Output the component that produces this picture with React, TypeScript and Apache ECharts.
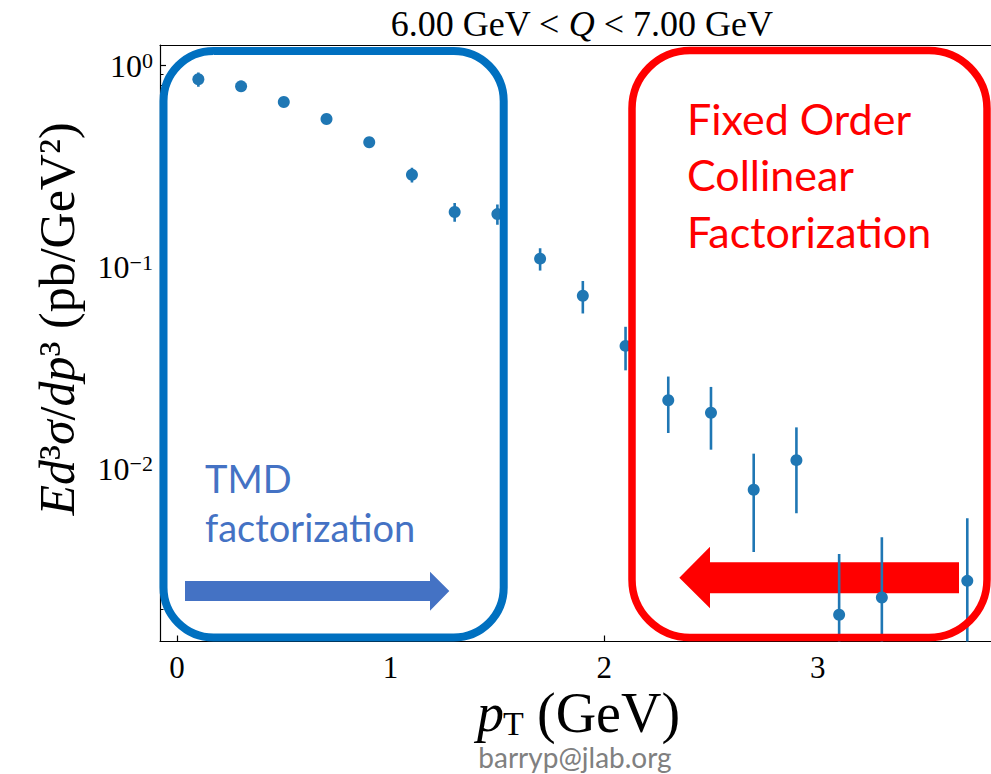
import React, { useEffect, useRef } from "react";
import * as echarts from "echarts";

// ---- data ----
const ptValues = [0.1, 0.3, 0.5, 0.7, 0.9, 1.1, 1.3, 1.5, 1.7, 1.9, 2.1, 2.3, 2.5, 2.7, 2.9, 3.1, 3.3, 3.7];
const sigmaValues = [0.854, 0.788, 0.659, 0.543, 0.416, 0.287, 0.1875, 0.183, 0.11, 0.072, 0.0406, 0.0218, 0.0189, 0.00785, 0.011, 0.00188, 0.00229, 0.00277];
const sigmaErrors = [0.069, 0.035, 0.03, 0.025, 0.02, 0.024, 0.02, 0.021, 0.014, 0.0132, 0.0099, 0.0068, 0.0065, 0.004, 0.005, 0.00188, 0.00227, 0.0029];

const xTicks = [0, 1, 2, 3];
const yMajorTicks = [1, 0.1, 0.01];
const yMinorTicks = [
  0.002, 0.003, 0.004, 0.005, 0.006, 0.007, 0.008, 0.009,
  0.02, 0.03, 0.04, 0.05, 0.06, 0.07, 0.08, 0.09,
  0.2, 0.3, 0.4, 0.5, 0.6, 0.7, 0.8, 0.9,
];

const X_MIN = -0.0796;
const X_MAX = 3.811;
const Y_MIN = 0.001385;
const Y_MAX = 1.264;

const titleText = "6.00 GeV < {q|Q} < 7.00 GeV";
const redLines = ["Fixed Order", "Collinear", "Factorization"];
const blueLines = ["TMD", "factorization"];
const footerText = "barryp@jlab.org";

const SERIF = "'Liberation Serif', 'DejaVu Serif', serif";
const SANS = "Lato, 'Open Sans', sans-serif";
const DOT = "#1f77b4";

export default function App() {
  const ref = useRef<HTMLDivElement>(null);

  useEffect(() => {
    if (!ref.current) return;
    const chart = echarts.init(ref.current, undefined, { renderer: "svg" });

    const errData = ptValues.map((x, i) => [x, sigmaValues[i], sigmaErrors[i]]);
    const ptData = ptValues.map((x, i) => [x, sigmaValues[i]]);

    const supRich = {
      a: { fontFamily: SERIF, fontSize: 32, color: "#000", lineHeight: 32 },
      b: { fontFamily: SERIF, fontSize: 22, color: "#000", verticalAlign: "top", lineHeight: 22 },
    };

    const option: any = {
      animation: false,
      backgroundColor: "#fff",
      grid: { left: 160, top: 45, right: 0, bottom: 132.5, containLabel: false },
      xAxis: [
        {
          type: "value",
          min: X_MIN,
          max: X_MAX,
          position: "bottom",
          axisLine: { show: true, onZero: false, lineStyle: { color: "#000", width: 1.2 } },
          axisTick: { show: true, inside: true, length: 6, customValues: xTicks, lineStyle: { color: "#000", width: 1.2 } },
          axisLabel: { customValues: xTicks, fontFamily: SERIF, fontSize: 31, color: "#000", margin: 10, formatter: (v: number) => String(v) },
          splitLine: { show: false },
        },
        {
          type: "value",
          min: X_MIN,
          max: X_MAX,
          position: "top",
          axisLine: { show: true, onZero: false, lineStyle: { color: "#000", width: 1.2 } },
          axisTick: { show: false },
          axisLabel: { show: false },
          splitLine: { show: false },
        },
      ],
      yAxis: [
        {
          type: "log",
          min: Y_MIN,
          max: Y_MAX,
          position: "left",
          axisLine: { show: true, onZero: false, lineStyle: { color: "#000", width: 1.2 } },
          axisTick: { show: true, inside: true, length: 6, customValues: yMajorTicks, lineStyle: { color: "#000", width: 1.2 } },
          axisLabel: {
            customValues: yMajorTicks,
            margin: 7,
            formatter: (v: number) => {
              const e = Math.round(Math.log10(v));
              const s = e < 0 ? "\u2212" + String(-e) : String(e);
              return "{a|10}{b|" + s + "}";
            },
            rich: supRich,
          },
          splitLine: { show: false },
          minorTick: { show: false },
        },
        {
          type: "log",
          min: Y_MIN,
          max: Y_MAX,
          position: "left",
          offset: 0,
          axisLine: { show: false, onZero: false },
          axisTick: { show: true, inside: true, length: 3.5, customValues: yMinorTicks, lineStyle: { color: "#000", width: 1 } },
          axisLabel: { show: false },
          splitLine: { show: false },
        },
      ],
      series: [
        {
          type: "custom",
          xAxisIndex: 0,
          yAxisIndex: 0,
          clip: true,
          z: 2,
          data: errData,
          encode: { x: 0, y: 1 },
          renderItem: (params: any, api: any) => {
            const x = api.value(0);
            const y = api.value(1);
            const e = api.value(2);
            const lo = Math.max(y - e, Y_MIN * 0.5);
            const p1 = api.coord([x, y + e]);
            const p2 = api.coord([x, lo]);
            return {
              type: "line",
              shape: { x1: p1[0], y1: p1[1], x2: p2[0], y2: p2[1] },
              style: { stroke: DOT, lineWidth: 2.6 },
            };
          },
        },
        {
          type: "scatter",
          xAxisIndex: 0,
          yAxisIndex: 0,
          symbol: "circle",
          symbolSize: 12,
          z: 3,
          itemStyle: { color: DOT, opacity: 1 },
          data: ptData,
        },
      ],
      graphic: [
        // title
        {
          type: "text",
          x: 581.7,
          y: 24,
          z: 20,
          style: {
            text: titleText,
            fontFamily: SERIF,
            fontSize: 36,
            fill: "#000",
            align: "center",
            verticalAlign: "middle",
            rich: { q: { fontFamily: SERIF, fontSize: 36, fontStyle: "italic", fill: "#000" } },
          },
        },
        // y axis label
        {
          type: "text",
          x: 57,
          y: 319,
          rotation: Math.PI / 2,
          z: 20,
          style: {
            text: "{i|Ed}{r|\u00b3}{i|\u03c3}{r|/}{i|dp}{r|\u00b3 (pb/GeV\u00b2)}",
            fontFamily: SERIF,
            fontSize: 50,
            fill: "#000",
            align: "center",
            verticalAlign: "middle",
            rich: {
              i: { fontFamily: SERIF, fontSize: 50, fontStyle: "italic", fill: "#000" },
              r: { fontFamily: SERIF, fontSize: 50, fill: "#000" },
            },
          },
        },
        // x axis label
        {
          type: "text",
          x: 477,
          y: 713,
          z: 20,
          style: { text: "p", fontFamily: SERIF, fontSize: 54, fontStyle: "italic", fill: "#000", align: "left", verticalAlign: "middle" },
        },
        {
          type: "text",
          x: 503,
          y: 723,
          z: 20,
          style: { text: "T", fontFamily: SERIF, fontSize: 34, fill: "#000", align: "left", verticalAlign: "middle" },
        },
        {
          type: "text",
          x: 537,
          y: 713,
          z: 20,
          style: { text: "(GeV)", fontFamily: SERIF, fontSize: 56, fill: "#000", align: "left", verticalAlign: "middle" },
        },
        // footer
        {
          type: "text",
          x: 575,
          y: 757,
          z: 20,
          style: { text: footerText, fontFamily: SANS, fontSize: 28, fill: "#808080", align: "center", verticalAlign: "middle" },
        },
        // red arrow (below data)
        {
          type: "polygon",
          z: 1,
          shape: {
            points: [
              [959, 562.3], [710, 562.3], [710, 546.7], [679.3, 577.8], [710, 608.3], [710, 593.3], [959, 593.3],
            ],
          },
          style: { fill: "#ff0000" },
        },
        // blue arrow
        {
          type: "polygon",
          z: 1,
          shape: {
            points: [
              [185, 581], [430, 581], [430, 571.7], [449.3, 591], [430, 610.7], [430, 601], [185, 601],
            ],
          },
          style: { fill: "#4472c4" },
        },
        // blue box
        {
          type: "rect",
          z: 10,
          shape: { x: 163.5, y: 51, width: 340.2, height: 586.5, r: 50 },
          style: { fill: "none", stroke: "#0070c0", lineWidth: 8 },
        },
        // red box
        {
          type: "rect",
          z: 10,
          shape: { x: 632, y: 50.5, width: 355, height: 587, r: 58 },
          style: { fill: "none", stroke: "#ff0000", lineWidth: 7.5 },
        },
        // blue text
        ...blueLines.map((t, i) => ({
          type: "text",
          x: 205,
          y: 478 + i * 49,
          z: 20,
          style: { text: t, fontFamily: SANS, fontSize: 38, fill: "#4472c4", align: "left", verticalAlign: "middle" },
        })),
        // red text
        ...redLines.map((t, i) => ({
          type: "text",
          x: 687,
          y: 118 + i * 56.7,
          z: 20,
          style: { text: t, fontFamily: SANS, fontSize: 43, fill: "#ff0000", align: "left", verticalAlign: "middle" },
        })),
      ],
    };

    chart.setOption(option);
    return () => chart.dispose();
  }, []);

  return (
    <div
      ref={ref}
      style={{ position: "fixed", left: 0, top: 0, width: 991, height: 774, background: "#fff" }}
    />
  );
}
